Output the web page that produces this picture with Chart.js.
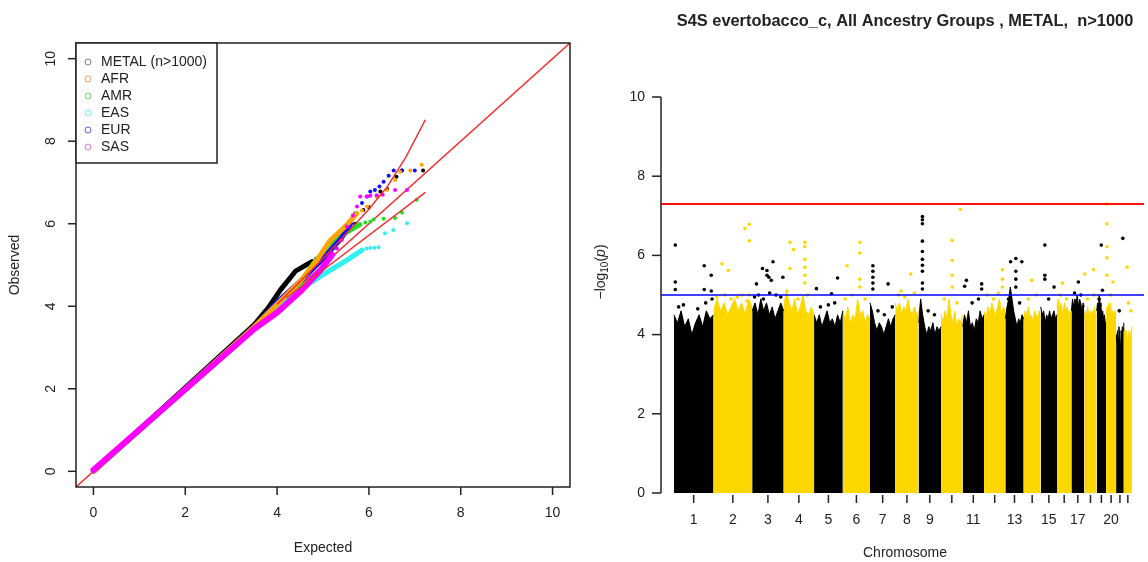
<!DOCTYPE html>
<html>
<head>
<meta charset="UTF-8">
<title>QQ and Manhattan</title>
<script src="https://cdn.jsdelivr.net/npm/chart.js@4.4.0/dist/chart.umd.min.js"></script>
<style>
    body { margin: 0; background: #fff; }
    #wrap { position: relative; width: 1148px; height: 562px; }
    canvas { position: absolute; top: 0; }
    #qq { left: 0; }
    #man { left: 590px; }
</style>
</head>
<body>
<div id="wrap">
    <canvas id="qq" width="590" height="562"></canvas>
    <canvas id="man" width="558" height="562"></canvas>
</div>
<script>
// ---------- QQ plot data ----------
var qqGroups = ['METAL (n>1000)', 'AFR', 'AMR', 'EAS', 'EUR', 'SAS'];
var qqColors = ['#000000', '#FFA500', '#22DD22', '#30F0F0', '#1010FF', '#FF00FF'];
var qqLegendColors = ['#808080', '#F5A060', '#60D860', '#70ECEC', '#6060E8', '#F070F0'];
var qqTicks = [0, 2, 4, 6, 8, 10];
// stacking, larger = drawn underneath
var qqOrder = [12, 6, 10, 9, 8, 2];

// dense (overplotted) part of each curve, [expected, observed]
var denseMETAL = [[0, 0], [3.5, 3.55], [3.8, 3.95], [4.07, 4.39], [4.4, 4.85], [4.76, 5.08]];
var denseAFR = [[0, 0], [3.5, 3.5], [4, 4.05], [4.5, 4.6], [4.87, 5.12], [5.16, 5.6], [5.5, 5.95], [5.74, 6.25]];
var denseAMR = [[0, 0], [3.5, 3.48], [4, 4.0], [4.5, 4.55], [4.8, 5.05], [5.16, 5.5], [5.52, 5.8], [5.8, 5.98]];
var denseEAS = [[0, 0], [3.5, 3.45], [4, 3.95], [4.5, 4.4], [5.05, 4.8], [5.52, 5.12], [5.85, 5.36]];
var denseEUR = [[0, 0], [3.5, 3.5], [4, 4.1], [4.5, 4.6], [5, 5.15], [5.4, 5.65], [5.6, 6.0]];
var denseSAS = [[0, 0.03], [3.5, 3.45], [4, 3.85], [4.5, 4.35], [4.95, 4.88], [5.2, 5.25]];

// sparse tail points
var tailMETAL = [[4.85, 5.15], [5.0, 5.3], [5.1, 5.4], [5.2, 5.5], [5.35, 5.65], [5.52, 5.81], [5.7, 6.0], [5.88, 6.33], [6.0, 6.4], [6.18, 6.66], [6.25, 6.78], [6.4, 6.84], [6.6, 7.14], [6.72, 7.29], [7.18, 7.29]];
var tailAFR = [[5.85, 6.32], [5.96, 6.42], [6.17, 6.66], [6.39, 6.82], [6.57, 7.06], [6.68, 7.26], [6.9, 7.29], [7.15, 7.43]];
var tailAMR = [[5.92, 6.03], [6.03, 6.05], [6.1, 6.1], [6.32, 6.12], [6.57, 6.14], [6.72, 6.27], [7.04, 6.58]];
var tailEAS = [[5.95, 5.4], [6.03, 5.41], [6.12, 5.42], [6.21, 5.43], [6.35, 5.77], [6.53, 5.85], [6.83, 6.01]];
var tailEUR = [[5.7, 6.25], [5.85, 6.5], [5.96, 6.66], [6.03, 6.78], [6.13, 6.82], [6.23, 6.9], [6.32, 7.02], [6.43, 7.16], [6.54, 7.29], [6.72, 7.29], [7.0, 7.29]];
var tailSAS = [[5.3, 5.4], [5.4, 5.6], [5.52, 5.93], [5.65, 6.2], [5.74, 6.42], [5.81, 6.66], [5.95, 6.66], [6.03, 6.68], [6.17, 6.69], [6.3, 6.7], [6.57, 6.82], [6.83, 6.82]];

// red reference / fit lines
var identityLine = [[-0.38, -0.38], [10.38, 10.38]];
var fitUpper = [[4, 4.05], [5, 5.15], [5.5, 5.75], [6, 6.35], [6.4, 6.9], [6.8, 7.6], [7.23, 8.52]];
var fitLower = [[4.2, 4.2], [7.23, 6.76]];

// ---------- Manhattan data ----------
var chrLengths = [249.3, 243.2, 198.0, 191.2, 180.9, 171.1, 159.1, 146.4, 141.2, 135.5, 135.0, 133.9, 115.2, 107.3, 102.5, 90.4, 81.2, 78.1, 59.1, 63.0, 48.1, 51.3];
var chrLabels = ['1', '2', '3', '4', '5', '6', '7', '8', '9', '', '11', '', '13', '', '15', '', '17', '', '', '20', '', ''];
var chrColors = ['#000000', '#FFD700'];
// top of the dense cloud, evenly along each chromosome
var chrTops = [
    [4.5, 4.3, 4.6, 4.2, 4.4, 4.0, 4.3, 4.5, 4.2, 4.6, 4.4, 4.5],
    [4.6, 4.9, 4.6, 4.8, 4.5, 4.7, 4.9, 4.6, 4.8, 4.5, 4.9, 4.7],
    [4.6, 4.8, 4.5, 4.9, 4.6, 4.8, 4.5, 4.7, 4.4, 4.6, 4.8, 4.6],
    [4.7, 5.1, 4.8, 4.6, 4.9, 4.5, 4.7, 5.0, 4.6, 4.5, 4.7, 4.5],
    [4.5, 4.3, 4.5, 4.2, 4.4, 4.6, 4.3, 4.4, 4.2, 4.5, 4.3, 4.6],
    [4.6, 4.4, 4.7, 4.3, 4.5, 4.4, 4.9, 4.5, 4.6, 4.3, 4.5, 4.4],
    [4.8, 4.6, 4.3, 4.1, 4.3, 4.2, 4.0, 4.2, 4.4, 4.2, 4.4, 4.5],
    [4.8, 4.6, 4.8, 4.5, 4.7, 4.6, 4.9, 4.6, 4.5, 4.7, 4.5, 4.6],
    [4.3, 4.9, 4.5, 4.2, 4.0, 4.2, 4.1, 4.3, 4.0, 4.2, 4.1, 4.2],
    [4.5, 4.3, 4.6, 4.4, 4.9, 4.5, 4.3, 4.6, 4.2, 4.4, 4.3, 4.5],
    [4.2, 4.5, 4.3, 4.6, 4.2, 4.3, 4.1, 4.4, 4.3, 4.6, 4.4, 4.5],
    [4.6, 4.4, 4.7, 4.5, 4.8, 4.6, 4.5, 4.7, 4.9, 4.5, 4.7, 4.6],
    [4.4, 4.7, 4.9, 5.2, 4.9, 4.6, 4.4, 4.2, 4.4, 4.3, 4.5, 4.4],
    [4.4, 4.6, 4.5, 4.7, 4.4, 4.5, 4.3, 4.6, 4.5, 4.4, 4.6, 4.4],
    [4.7, 4.5, 4.6, 4.3, 4.5, 4.4, 4.6, 4.4, 4.5, 4.6, 4.4, 4.5],
    [4.7, 4.9, 4.6, 4.8, 4.5, 4.7, 4.8, 4.6, 4.7, 4.5, 4.6, 4.5],
    [4.6, 4.9, 4.7, 4.9, 4.8, 5.0, 4.7, 4.9, 4.8, 4.6, 4.8, 4.7],
    [4.4, 4.6, 4.5, 4.7, 4.5, 4.6, 4.4, 4.6, 4.5, 4.7, 4.5, 4.5],
    [4.6, 4.8, 4.7, 5.0, 4.8, 4.7, 4.5, 4.6, 4.4, 4.5, 4.3, 4.3],
    [4.5, 4.7, 4.5, 4.8, 4.6, 4.8, 4.5, 4.6, 4.4, 4.6, 4.5, 4.6],
    [4.0, 3.8, 4.1, 3.9, 4.2, 4.0, 3.8, 4.1, 4.0, 4.2, 4.1, 4.3],
    [4.2, 4.0, 4.1, 3.9, 4.0, 3.8, 4.0, 4.1, 3.9, 4.0, 4.1, 4.2]
];
// individual SNPs standing out above the cloud (chromosome, Mb, -log10 p)
var hitChr = [1, 1, 1, 1, 1, 1, 1, 2, 2, 2, 2, 2, 2, 3, 3, 3, 3, 3, 3, 3, 3, 4, 4, 4, 4, 4, 4, 4, 4, 4, 5, 5, 5, 6, 6, 6, 6, 6, 7, 7, 7, 7, 7, 7, 8, 8, 9, 9, 9, 9, 9, 9, 9, 9, 9, 9, 10, 10, 10, 10, 10, 11, 11, 11, 11, 12, 12, 12, 13, 13, 13, 13, 13, 13, 14, 15, 15, 15, 15, 16, 17, 18, 18, 19, 19, 20, 20, 20, 20, 20, 20, 21, 22,
    1, 1, 1, 1, 1, 2, 2, 2, 2, 2, 2, 3, 3, 3, 3, 3, 3, 4, 4, 4, 5, 5, 5, 6, 6, 6, 7, 7, 7, 8, 8, 8, 9, 9, 10, 10, 11, 11, 12, 12, 12, 13, 13, 14, 14, 15, 16, 16, 17, 17, 18, 18, 19, 20, 21, 22, 22];
var hitPos = [9, 9, 9, 191, 191, 235, 235, 53, 93, 197, 226, 226, 226, 65, 93, 131, 105, 120, 193, 27, 93, 40, 62, 40, 133, 133, 133, 133, 133, 133, 148, 15, 110, 27, 107, 107, 107, 107, 18, 18, 18, 18, 18, 114, 97, 37, 24, 24, 24, 24, 24, 24, 24, 24, 24, 24, 122, 71, 71, 71, 71, 24, 13, 120, 120, 116, 116, 116, 33, 66, 104, 66, 66, 66, 51, 26, 26, 26, 84, 34, 44, 3, 58, 29, 36, 5, 5, 5, 5, 5, 43, 42, 21,
    30, 60, 150, 200, 240, 20, 70, 110, 150, 180, 210, 15, 40, 70, 110, 150, 180, 20, 90, 150, 40, 90, 130, 15, 60, 140, 50, 90, 140, 20, 60, 120, 60, 100, 20, 100, 60, 100, 20, 60, 90, 20, 90, 30, 80, 50, 20, 60, 20, 60, 20, 60, 15, 30, 20, 30, 45];
var hitLogP = [6.26, 5.33, 5.14, 5.74, 5.14, 5.5, 5.1, 5.79, 5.62, 6.68, 6.78, 6.37, 5.0, 5.67, 5.62, 5.84, 5.45, 5.37, 5.45, 5.28, 5.5, 6.33, 6.15, 5.67, 6.33, 6.22, 5.9, 5.7, 5.5, 5.3, 5.43, 5.16, 5.03, 5.74, 6.33, 6.06, 5.4, 5.2, 5.74, 5.6, 5.45, 5.3, 5.15, 5.28, 5.53, 5.1, 6.98, 6.9, 6.8, 6.36, 6.1, 5.9, 5.75, 5.6, 5.3, 5.15, 7.16, 6.38, 5.87, 5.5, 5.2, 5.37, 5.22, 5.28, 5.15, 5.64, 5.4, 5.2, 5.84, 5.92, 5.84, 5.6, 5.4, 5.2, 5.37, 6.26, 5.5, 5.4, 5.2, 5.3, 5.33, 5.53, 5.64, 6.26, 5.12, 7.3, 6.8, 6.22, 5.94, 5.5, 5.33, 6.43, 5.7,
    4.7, 4.75, 4.65, 4.8, 4.9, 4.95, 5.0, 4.9, 4.95, 5.0, 4.85, 4.95, 5.0, 4.9, 5.05, 5.0, 4.95, 5.1, 4.9, 5.0, 4.7, 4.75, 4.8, 4.9, 5.0, 4.9, 4.6, 4.5, 4.7, 5.0, 4.95, 5.05, 4.6, 4.5, 4.9, 4.8, 4.8, 4.9, 5.0, 4.9, 5.05, 4.9, 4.8, 4.9, 5.0, 4.9, 5.0, 4.9, 5.05, 5.0, 4.9, 5.0, 4.9, 5.0, 4.6, 4.8, 4.6];
var genomeWideLine = 7.3;
var suggestiveLine = 5;
var manTicks = [0, 2, 4, 6, 8, 10];

var FONT = '"Liberation Sans", Arial, sans-serif';

// ---------- QQ chart ----------
function pts(arr) {
    return arr.map(function (p) { return {x: p[0], y: p[1]}; });
}

var denseSets = [denseMETAL, denseAFR, denseAMR, denseEAS, denseEUR, denseSAS];
var tailSets = [tailMETAL, tailAFR, tailAMR, tailEAS, tailEUR, tailSAS];
var qqDatasets = [];

qqDatasets.push({data: pts(identityLine), showLine: true, borderColor: '#F03030', borderWidth: 1.5, pointRadius: 0, order: 20});
for (var g = 0; g < qqGroups.length; g++) {
    qqDatasets.push({
        label: qqGroups[g], data: pts(denseSets[g]), showLine: true,
        borderColor: qqColors[g], borderWidth: g === 5 ? 6 : 5, borderCapStyle: 'round', borderJoinStyle: 'round',
        pointRadius: 0, order: qqOrder[g]
    });
    qqDatasets.push({
        data: pts(tailSets[g]), showLine: false, pointRadius: 2, pointBorderWidth: 0,
        backgroundColor: qqColors[g], order: qqOrder[g]
    });
}
qqDatasets.push({data: pts(fitUpper), showLine: true, borderColor: '#F03030', borderWidth: 1.5, pointRadius: 0, order: 0});
qqDatasets.push({data: pts(fitLower), showLine: true, borderColor: '#F03030', borderWidth: 1.5, pointRadius: 0, order: 0});

var qqAxes = {
    id: 'qqAxes',
    afterDraw: function (chart) {
        var ctx = chart.ctx, a = chart.chartArea, xs = chart.scales.x, ys = chart.scales.y;
        ctx.save();
        ctx.strokeStyle = '#222';
        ctx.lineWidth = 1.5;
        ctx.strokeRect(a.left, a.top, a.right - a.left, a.bottom - a.top);
        ctx.fillStyle = '#222';
        ctx.font = '14px ' + FONT;
        ctx.textAlign = 'center';
        ctx.textBaseline = 'middle';
        qqTicks.forEach(function (t) {
            var px = xs.getPixelForValue(t);
            ctx.beginPath(); ctx.moveTo(px, a.bottom); ctx.lineTo(px, a.bottom + 8); ctx.stroke();
            ctx.fillText(String(t), px, a.bottom + 26);
            var py = ys.getPixelForValue(t);
            ctx.beginPath(); ctx.moveTo(a.left, py); ctx.lineTo(a.left - 8, py); ctx.stroke();
            ctx.save();
            ctx.translate(a.left - 25, py);
            ctx.rotate(-Math.PI / 2);
            ctx.fillText(String(t), 0, 0);
            ctx.restore();
        });
        ctx.fillText('Expected', (a.left + a.right) / 2, 548);
        ctx.save();
        ctx.translate(15, (a.top + a.bottom) / 2);
        ctx.rotate(-Math.PI / 2);
        ctx.fillText('Observed', 0, 0);
        ctx.restore();

        // legend
        ctx.fillStyle = '#fff';
        ctx.fillRect(a.left, a.top, 141, 120);
        ctx.strokeRect(a.left, a.top, 141, 120);
        ctx.textAlign = 'left';
        ctx.lineWidth = 1;
        qqGroups.forEach(function (name, i) {
            var y = a.top + 19 + i * 17;
            ctx.strokeStyle = qqLegendColors[i];
            ctx.beginPath(); ctx.arc(a.left + 12, y, 3, 0, Math.PI * 2); ctx.stroke();
            ctx.fillStyle = '#222';
            ctx.fillText(name, a.left + 25, y);
        });
        ctx.restore();
    }
};

new Chart(document.getElementById('qq'), {
    type: 'scatter',
    data: {datasets: qqDatasets},
    options: {
        responsive: false, animation: false, devicePixelRatio: 1, events: [],
        layout: {padding: {left: 76, top: 43, right: 20, bottom: 75}},
        plugins: {legend: {display: false}, tooltip: {enabled: false}},
        scales: {
            x: {type: 'linear', min: -0.38, max: 10.38, display: false},
            y: {type: 'linear', min: -0.38, max: 10.38, display: false}
        }
    },
    plugins: [qqAxes]
});

// ---------- Manhattan chart ----------
var chrStart = [];
var acc = 0;
chrLengths.forEach(function (len) { chrStart.push(acc); acc += len; });

var manDatasets = [];
chrTops.forEach(function (tops, c) {
    var data = tops.map(function (v, i) {
        return {x: chrStart[c] + chrLengths[c] * i / (tops.length - 1), y: v};
    });
    manDatasets.push({
        data: data, showLine: true, fill: 'origin', tension: 0,
        borderColor: chrColors[c % 2], backgroundColor: chrColors[c % 2],
        borderWidth: 1, pointRadius: 0, order: 5
    });
});
manDatasets.push({
    data: hitPos.map(function (p, i) { return {x: chrStart[hitChr[i] - 1] + p, y: hitLogP[i]}; }),
    showLine: false, pointRadius: 1.8, pointBorderWidth: 0, order: 3,
    backgroundColor: function (ctx) { return chrColors[(hitChr[ctx.dataIndex] - 1) % 2]; }
});
manDatasets.push({
    data: [{x: -81, y: suggestiveLine}, {x: 2957, y: suggestiveLine}],
    showLine: true, borderColor: '#0000FF', borderWidth: 1.5, pointRadius: 0, order: 1
});
manDatasets.push({
    data: [{x: -81, y: genomeWideLine}, {x: 2957, y: genomeWideLine}],
    showLine: true, borderColor: '#FF1010', borderWidth: 2, pointRadius: 0, order: 1
});

var manAxes = {
    id: 'manAxes',
    afterDraw: function (chart) {
        var ctx = chart.ctx, a = chart.chartArea, xs = chart.scales.x, ys = chart.scales.y;
        ctx.save();
        ctx.strokeStyle = '#222';
        ctx.fillStyle = '#222';
        ctx.lineWidth = 1.5;
        ctx.font = '14px ' + FONT;
        ctx.textBaseline = 'middle';
        var y0 = ys.getPixelForValue(manTicks[0]);
        var y1 = ys.getPixelForValue(manTicks[manTicks.length - 1]);
        ctx.beginPath(); ctx.moveTo(a.left, y0); ctx.lineTo(a.left, y1); ctx.stroke();
        ctx.textAlign = 'right';
        manTicks.forEach(function (t) {
            var py = ys.getPixelForValue(t);
            ctx.beginPath(); ctx.moveTo(a.left, py); ctx.lineTo(a.left - 9, py); ctx.stroke();
            ctx.fillText(String(t), a.left - 16, py);
        });
        ctx.textAlign = 'center';
        chrLengths.forEach(function (len, c) {
            var px = xs.getPixelForValue(chrStart[c] + len / 2);
            ctx.beginPath(); ctx.moveTo(px, a.bottom + 2); ctx.lineTo(px, a.bottom + 10); ctx.stroke();
            if (chrLabels[c]) ctx.fillText(chrLabels[c], px, a.bottom + 27);
        });
        ctx.fillText('Chromosome', 315, 553);
        ctx.font = 'bold 16.4px ' + FONT;
        ctx.fillText('S4S evertobacco_c, All Ancestry Groups , METAL,  n>1000', 315, 21);
        // y axis title: -log10(p)
        ctx.save();
        ctx.translate(11, 272);
        ctx.rotate(-Math.PI / 2);
        var t1 = '\u2212log', t2 = '10';
        ctx.font = '14px ' + FONT; var w1 = ctx.measureText(t1).width;
        var wo = ctx.measureText('(').width, wc = ctx.measureText(')').width;
        ctx.font = '10px ' + FONT; var w2 = ctx.measureText(t2).width;
        ctx.font = 'italic 14px ' + FONT; var wp = ctx.measureText('p').width;
        var x = -(w1 + w2 + wo + wp + wc) / 2;
        ctx.textAlign = 'left';
        ctx.font = '14px ' + FONT; ctx.fillText(t1, x, 0);
        ctx.font = '10px ' + FONT; ctx.fillText(t2, x + w1, 4);
        ctx.font = '14px ' + FONT; ctx.fillText('(', x + w1 + w2, 0);
        ctx.font = 'italic 14px ' + FONT; ctx.fillText('p', x + w1 + w2 + wo, 0);
        ctx.font = '14px ' + FONT; ctx.fillText(')', x + w1 + w2 + wo + wp, 0);
        ctx.restore();
        ctx.restore();
    }
};

new Chart(document.getElementById('man'), {
    type: 'scatter',
    data: {datasets: manDatasets},
    options: {
        responsive: false, animation: false, devicePixelRatio: 1, events: [],
        layout: {padding: {left: 71, top: 97, right: 0, bottom: 69}},
        plugins: {legend: {display: false}, tooltip: {enabled: false}},
        scales: {
            x: {type: 'linear', min: -81, max: 2957, display: false},
            y: {type: 'linear', min: 0, max: 10, display: false}
        }
    },
    plugins: [manAxes]
});
</script>
</body>
</html>
